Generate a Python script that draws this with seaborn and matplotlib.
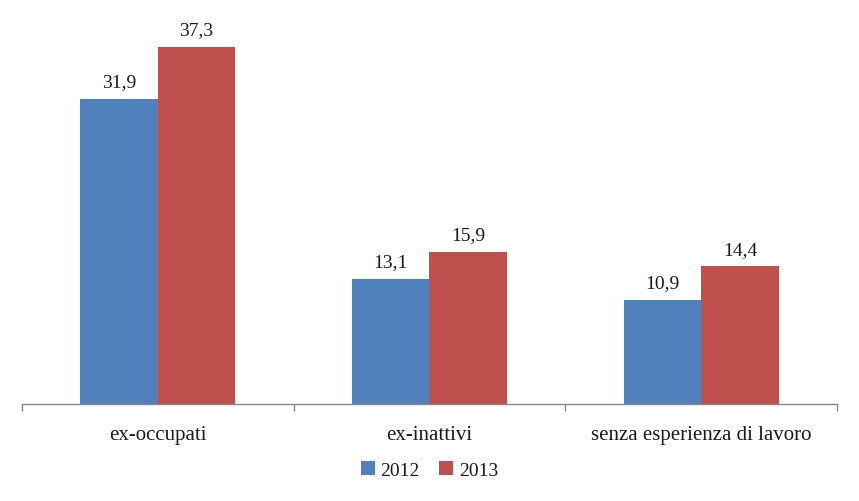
import matplotlib
matplotlib.use("Agg")
import matplotlib.pyplot as plt
import seaborn as sns
import pandas as pd

categories = ["ex-occupati", "ex-inattivi", "senza esperienza di lavoro"]
years = ["2012", "2013"]
values_2012 = [31.9, 13.1, 10.9]
values_2013 = [37.3, 15.9, 14.4]
colors = ["#4F81BD", "#C0504D"]

df = pd.DataFrame({
    "categoria": categories * 2,
    "anno": [years[0]] * 3 + [years[1]] * 3,
    "valore": values_2012 + values_2013,
})

sns.set_theme(style="white")
plt.rcParams["font.family"] = ["Liberation Serif", "DejaVu Serif"]

fig = plt.figure(figsize=(8.59, 5.02), dpi=100)
ax = fig.add_axes([22 / 859, 1 - 405 / 502, (837 - 22) / 859, (405 - 22) / 502])

sns.barplot(data=df, x="categoria", y="valore", hue="anno", palette=colors,
            width=0.57, saturation=1, linewidth=0, ax=ax, legend=True)

for cont in ax.containers:
    ax.bar_label(cont, labels=[f"{v:.1f}".replace(".", ",") for v in cont.datavalues],
                 padding=6, fontsize=14, color="#1a1a1a")

ax.set_ylim(0, 40)
ax.set_xlim(-0.5, 2.5)
ax.set_xlabel("")
ax.set_ylabel("")
ax.set_yticks([])
for s in ["top", "right", "left"]:
    ax.spines[s].set_visible(False)
ax.spines["bottom"].set_color("#868686")
ax.spines["bottom"].set_linewidth(1)

ax.set_xticks([-0.5, 0.5, 1.5, 2.5], minor=True)
ax.tick_params(axis="x", which="minor", bottom=True, length=5, color="#868686", width=1, direction="out")
ax.tick_params(axis="x", which="major", bottom=True, length=0, pad=15, labelsize=15, labelcolor="#1a1a1a")

leg = ax.legend(loc="center", bbox_to_anchor=(0.5, 1 - 471 / 502), bbox_transform=fig.transFigure,
                ncol=2, frameon=False, fontsize=14, handlelength=0.7, handleheight=0.7,
                handletextpad=0.3, columnspacing=1.0)
for t in leg.get_texts():
    t.set_color("#1a1a1a")

fig.savefig("out.png", dpi=100)
